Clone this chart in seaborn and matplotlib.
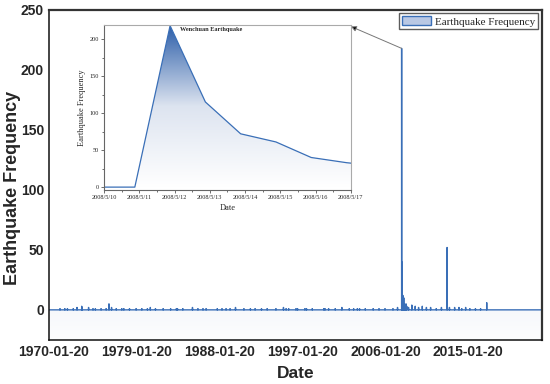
import numpy as np
import pandas as pd
import matplotlib
matplotlib.use("Agg")
import matplotlib.pyplot as plt
import matplotlib.dates as mdates
import matplotlib.transforms as mtransforms
from matplotlib.colors import LinearSegmentedColormap
from matplotlib.patches import Patch
import seaborn as sns

# background activity 1970-2008 (daily counts, other days are 0)
bg_dates = ['1971-04-03', '1971-10-12', '1972-01-23', '1972-09-11', '1973-02-06', '1973-08-11',
            '1973-09-02', '1974-05-11', '1974-11-02', '1975-02-04', '1975-09-18', '1976-04-06',
            '1976-07-28', '1976-11-07', '1977-05-12', '1977-12-19', '1978-03-10', '1978-10-20',
            '1979-07-09', '1980-02-22', '1980-09-30', '1981-01-24', '1981-08-15', '1982-06-16',
            '1983-04-09', '1983-11-22', '1984-01-06', '1984-08-05', '1985-08-23', '1986-03-27',
            '1986-10-14', '1987-02-14', '1988-05-03', '1988-11-06', '1989-04-16', '1989-09-22',
            '1990-04-26', '1991-03-26', '1991-12-08', '1992-06-11', '1993-02-20', '1993-10-02',
            '1994-09-16', '1995-07-12', '1995-10-24', '1996-02-03', '1996-11-19', '1997-01-21',
            '1997-11-08', '1998-01-10', '1998-08-27', '1999-11-29', '2000-01-15', '2000-06-06',
            '2001-02-23', '2001-11-14', '2002-09-03', '2003-02-24', '2003-07-21', '2003-10-16',
            '2004-05-30', '2005-04-08', '2005-11-26', '2006-07-22', '2007-06-03', '2007-12-01']
bg_counts = [1, 1, 1, 1, 2, 3,
             2, 2, 1, 1, 1, 1,
             5, 2, 1, 1, 1, 1,
             1, 1, 1, 2, 1, 1,
             1, 1, 1, 1, 2, 1,
             1, 1, 1, 1, 1, 1,
             2, 1, 1, 1, 1, 1,
             1, 2, 1, 1, 1, 1,
             1, 1, 1, 1, 1, 1,
             1, 2, 1, 1, 1, 1,
             1, 1, 1, 1, 1, 2]

# Wenchuan sequence (as shown in the inset)
wc_dates = ['2008-05-09 21:00', '2008-05-10 21:00', '2008-05-11 21:00', '2008-05-12 21:00',
            '2008-05-13 21:00', '2008-05-14 21:00', '2008-05-15 21:00', '2008-05-16 21:00',
            '2008-05-17 21:00']
wc_counts = [0, 0, 218, 115, 72, 61, 40, 33, 28]

# aftershocks and later events
late_dates = ['2008-05-20', '2008-05-22', '2008-05-25', '2008-05-28', '2008-06-01', '2008-06-05',
              '2008-06-10', '2008-06-20', '2008-07-01', '2008-07-15', '2008-08-01', '2008-08-05',
              '2008-08-20', '2008-09-10', '2008-10-01', '2008-11-01', '2008-12-01', '2009-02-10',
              '2009-06-20', '2009-11-02', '2010-03-15', '2010-08-10', '2011-01-20', '2011-07-05',
              '2012-02-14', '2012-09-07', '2013-04-20', '2013-04-21', '2013-04-22', '2013-07-22',
              '2014-02-12', '2014-08-03', '2014-11-22', '2015-04-25', '2015-10-10', '2016-05-18',
              '2016-12-08', '2017-08-08']
late_counts = [22, 18, 20, 14, 12, 10,
               8, 7, 12, 6, 8, 10,
               5, 4, 3, 5, 3, 2,
               4, 3, 2, 3, 2, 2,
               1, 2, 52, 6, 3, 2,
               2, 2, 1, 2, 1, 1,
               1, 6]

x_ticks = ['1970-01-20', '1979-01-20', '1988-01-20', '1997-01-20', '2006-01-20', '2015-01-20']
x_end = '2023-08-01'
inset_ticks = ['2008-05-10', '2008-05-11', '2008-05-12', '2008-05-13',
               '2008-05-14', '2008-05-15', '2008-05-16', '2008-05-17']
inset_labels = ['2008/5/10', '2008/5/11', '2008/5/12', '2008/5/13',
                '2008/5/14', '2008/5/15', '2008/5/16', '2008/5/17']

blue = '#3a6fb7'
grad = LinearSegmentedColormap.from_list('grad', ['#ffffff', '#dde4f0', '#2c5ea9'])

# daily series
days = pd.date_range(x_ticks[0], x_end, freq='D')
series = pd.Series(0.0, index=days)
series.loc[pd.to_datetime(bg_dates)] = bg_counts
series.loc[pd.to_datetime(late_dates)] = late_counts
wc = pd.Series(wc_counts, index=pd.to_datetime(wc_dates))
series = pd.concat([series, wc]).sort_index()
df = pd.DataFrame({'Date': series.index, 'Count': series.values})
df_wc = df[(df['Date'] >= '2008-05-09') & (df['Date'] <= '2008-05-19')]
df_wc = df_wc[df_wc['Date'].dt.hour == 21]

sns.set_style('white')
fig = plt.figure(figsize=(5.5, 3.84), dpi=100)
ax = fig.add_axes([0.089, 0.115, 0.896, 0.859])

sns.lineplot(data=df, x='Date', y='Count', ax=ax, color=blue, lw=1.0, estimator=None)
ymin = -25
x_num = mdates.date2num(df['Date'])
poly = ax.fill_between(x_num, df['Count'], ymin, color='none', lw=0)
img = ax.imshow(np.linspace(0, 1, 256).reshape(-1, 1), cmap=grad, aspect='auto', origin='lower',
                extent=[x_num[0], x_num[-1], ymin, 218], zorder=0, vmin=-0.03, vmax=1)
img.set_clip_path(poly.get_paths()[0], transform=ax.transData)

ax.set_xlim(pd.Timestamp(x_ticks[0]), pd.Timestamp(x_end))
ax.set_ylim(ymin, 250)
major = mdates.date2num(pd.to_datetime(x_ticks))
ax.set_xticks(major)
ax.set_xticklabels(x_ticks)
ax.set_xticks(np.append(major[:-1] + np.diff(major) / 2, major[-1] + np.diff(major)[0] / 2), minor=True)
ax.set_yticks([0, 50, 100, 150, 200, 250])
ax.set_yticks(np.arange(25, 250, 50), minor=True)
ax.tick_params(which='both', direction='in', length=3, width=0.9, color='#222222')
ax.tick_params(which='minor', length=2)
shift = mtransforms.ScaledTranslation(5 / 100, 0, fig.dpi_scale_trans)
for lab in ax.get_xticklabels():
    lab.set_transform(lab.get_transform() + shift)
for lab in ax.get_xticklabels() + ax.get_yticklabels():
    lab.set_fontfamily('Liberation Sans')
    lab.set_fontweight('bold')
    lab.set_fontsize(10)
ax.set_xlabel('Date', fontsize=12.5, fontweight='bold', family='Liberation Sans', labelpad=5)
ax.set_ylabel('Earthquake Frequency', fontsize=13, fontweight='bold', family='Liberation Sans')
ax.yaxis.set_label_coords(-0.057, 0.462)
for s in ['left', 'bottom']:
    ax.spines[s].set_color('#111111')
    ax.spines[s].set_linewidth(1.1)
for s in ['top', 'right']:
    ax.spines[s].set_color('#333333')
    ax.spines[s].set_linewidth(1.6)

leg_patch = Patch(facecolor='#b9c8e4', edgecolor=blue, lw=1.0)
ax.legend([leg_patch], ['Earthquake Frequency'], loc='upper right', frameon=True, fancybox=False,
          edgecolor='#333333', prop={'family': 'Liberation Serif', 'size': 8},
          borderpad=0.25, handlelength=2.6, handleheight=0.9, handletextpad=0.4, borderaxespad=0.3)

# inset
ins = fig.add_axes([0.189, 0.505, 0.449, 0.43])
sns.lineplot(data=df_wc, x='Date', y='Count', ax=ins, color=blue, lw=0.9, estimator=None)
wx = mdates.date2num(df_wc['Date'])
ipoly = ins.fill_between(wx, df_wc['Count'], 0, color='none', lw=0)
iimg = ins.imshow(np.linspace(0, 1, 256).reshape(-1, 1), cmap=grad, aspect='auto', origin='lower',
                  extent=[wx[0], wx[-1], 0, 218], zorder=0)
iimg.set_clip_path(ipoly.get_paths()[0], transform=ins.transData)
it = mdates.date2num(pd.to_datetime(inset_ticks))
ins.set_xlim(it[0], it[-1])
ins.set_ylim(-4, 219)
ins.set_xticks(it)
ins.set_xticklabels(inset_labels)
ins.set_xticks(it[:-1] + 0.5, minor=True)
ins.set_yticks([0, 50, 100, 150, 200])
ins.set_yticks([25, 75, 125, 175], minor=True)
ins.tick_params(which='both', direction='out', length=2, width=0.6, color='#555555', pad=1.5,
                bottom=True, left=True)
ins.tick_params(which='minor', length=1.2)
for lab in ins.get_xticklabels() + ins.get_yticklabels():
    lab.set_fontfamily('Liberation Serif')
    lab.set_fontsize(4.5)
ins.set_xlabel('Date', fontsize=6, family='Liberation Serif', labelpad=3)
ins.set_ylabel('Earthquake Frequency', fontsize=6, family='Liberation Serif', labelpad=3)
ins.set_title('Wenchuan Earthquake', fontsize=4.5, fontweight='bold', family='Liberation Serif',
              x=0.433, y=0.91)
for s in ['left', 'bottom']:
    ins.spines[s].set_color('#666666')
    ins.spines[s].set_linewidth(0.8)
for s in ['top', 'right']:
    ins.spines[s].set_color('#aaaaaa')
    ins.spines[s].set_linewidth(0.8)

# arrow from the spike to the inset corner
ax.annotate('', xy=(0.638, 0.931), xycoords='figure fraction',
            xytext=(pd.Timestamp('2008-05-12'), 218), textcoords='data',
            arrowprops=dict(arrowstyle='-|>', color='#777777', lw=0.7, mutation_scale=8,
                            shrinkA=0, shrinkB=0, fc='black'))

fig.savefig('out.png', dpi=100)
